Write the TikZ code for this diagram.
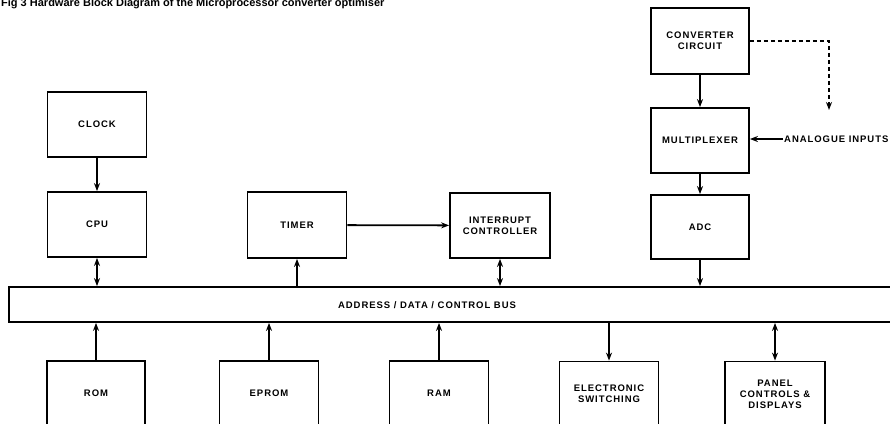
\documentclass[tikz,border=0pt]{standalone}
\usepackage{fontspec}
\setmainfont{Liberation Sans}
\newfontfamily\lblfam{Liberation Sans}[LetterSpace=10]
\usetikzlibrary{arrows.meta}
\tikzset{
  lbl/.style={font=\lblfam\bfseries\fontsize{9.5}{11}\selectfont},
  blk/.style={draw, line width=1.8pt, minimum width=99pt, minimum height=65pt,
              inner sep=0pt, align=center, lbl},
  conn/.style={line width=1.8pt},
  arr/.style={conn, -{Stealth[length=8pt,width=6pt]}},
  darr/.style={conn, {Stealth[length=8pt,width=6pt]}-{Stealth[length=8pt,width=6pt]}},
  dashconn/.style={conn, dash pattern=on 4pt off 3pt, -{Stealth[length=8pt,width=6pt]}}
}
\begin{document}
\begin{tikzpicture}[x=1pt,y=-1pt]
\useasboundingbox (0,0) rectangle (890,423);
\clip (0,0) rectangle (890,423);

% title (cut off at top, as in the source)
\node[anchor=base west, inner sep=0pt, font=\bfseries\fontsize{11}{12}\selectfont] (title) at (1,6)
  {Fig 3 Hardware Block Diagram of the Microprocessor converter optimiser};

% upper blocks
\node[blk] (clock) at (97,124.5) {CLOCK};
\node[blk] (cpu)   at (97,224.5) {CPU};
\node[blk, minimum height=66pt] (timer) at (297,225) {TIMER};
\node[blk, minimum width=100pt] (intr) at (500,225.5) {INTERRUPT\\CONTROLLER};
\node[blk, minimum width=98pt, minimum height=66pt] (conv) at (700,41) {CONVERTER\\CIRCUIT};
\node[blk, minimum width=98pt] (mux) at (700,140.5) {MULTIPLEXER};
\node[blk, minimum width=98pt, minimum height=64pt] (adc) at (700,227) {ADC};

% bus
\node[draw, line width=1.8pt, minimum width=890pt, minimum height=35pt, inner sep=0pt]
  (bus) at (454,304.5) {};
\node[lbl] (buslbl) at (427,305) {ADDRESS / DATA / CONTROL BUS};

% lower blocks (cut off at bottom)
\node[blk, minimum width=98pt] (rom) at (96,393.5) {ROM};
\node[blk] (eprom) at (269,393.5) {EPROM};
\node[blk] (ram) at (439,393.5) {RAM};
\node[blk] (elec) at (609,394) {ELECTRONIC\\SWITCHING};
\node[blk, minimum width=100pt] (panel) at (775,394) {PANEL\\CONTROLS \&\\DISPLAYS};

% analogue inputs
\node[lbl, anchor=west, inner sep=1pt] (ain) at (783,139) {ANALOGUE INPUTS};
\coordinate (dashend) at (829,110);

% connectors
\draw[arr] (clock) -- (cpu);
\draw[darr] (cpu) -- (cpu |- bus.north);
\draw[arr] (timer |- bus.north) -- (timer);
\draw[arr] (timer) -- (intr);
\draw[darr] (intr) -- (intr |- bus.north);
\draw[arr] (conv) -- (mux);
\draw[arr] (mux) -- (adc);
\draw[arr] (adc) -- (adc |- bus.north);
\draw[dashconn] (conv.east) -| (dashend);
\draw[arr] (ain.west) -- (mux.east |- ain.west);

\draw[arr] (rom) -- (rom |- bus.south);
\draw[arr] (eprom) -- (eprom |- bus.south);
\draw[arr] (ram) -- (ram |- bus.south);
\draw[arr] (elec |- bus.south) -- (elec);
\draw[darr] (panel) -- (panel |- bus.south);
\end{tikzpicture}
\end{document}
